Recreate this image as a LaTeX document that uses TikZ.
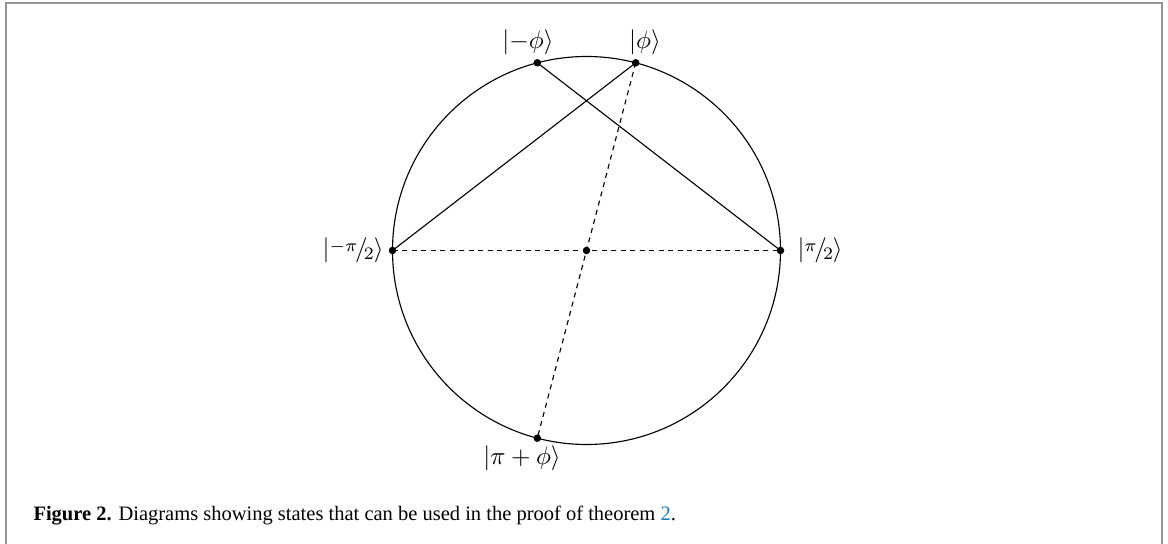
\documentclass[tikz,border=0pt]{standalone}
\usepackage[no-math]{fontspec}
\newfontfamily\capfont{Liberation Serif}
\definecolor{framecol}{RGB}{150,150,150}
\definecolor{linkblue}{RGB}{30,125,190}
\newcommand{\myfrac}[2]{\raisebox{.5ex}{$\scriptstyle #1$}\kern-.1em/\kern-.15em\raisebox{-.25ex}{$\scriptstyle #2$}}
\tikzset{
  dot/.style={circle, fill=black, inner sep=0pt, minimum size=3pt},
  lbl/.style={inner sep=0pt},
  solidline/.style={line width=0.45pt},
  dashline/.style={line width=0.45pt, dash pattern=on 2pt off 1.8pt},
}
\begin{document}
\begin{tikzpicture}[x=0.4pt, y=-0.4pt]
\useasboundingbox (0,0) rectangle (1168,544);
% frame
\draw[framecol, line width=0.8pt] (6,544) -- (6,3) -- (1162,3) -- (1162,544);
% circle
\coordinate (C) at (586.5,250.5);
\draw[solidline] (C) circle [radius=194];
% points
\node[dot] (c) at (C) {};
\node[dot] (phi) at (635.7,62.8) {};
\node[dot] (mphi) at (537.3,62.8) {};
\node[dot] (piphi) at (537.3,438.2) {};
\node[dot] (mpi2) at (392.5,250.5) {};
\node[dot] (pi2) at (780.5,250.5) {};
% connectors
\draw[solidline] (mpi2.center) -- (phi.center);
\draw[solidline] (mphi.center) -- (pi2.center);
\draw[dashline] (mpi2.center) -- (pi2.center);
\draw[dashline] (phi.center) -- (piphi.center);
% labels
\node[lbl] (lphi) at (645,42) {$|\phi\rangle$};
\node[lbl] (lmphi) at (528,42) {$|{-}\phi\rangle$};
\node[lbl] (lpiphi) at (522,458) {$|\pi+\phi\rangle$};
\node[lbl, anchor=east] (lmpi2) at (384,250.5) {$|\myfrac{-\pi}{2}\rangle$};
\node[lbl, anchor=west] (lpi2) at (797,250.5) {$|\myfrac{\pi}{2}\rangle$};
% caption
\node[lbl, anchor=base west, font=\capfont\fontsize{8.2}{10}\selectfont] (cap) at (33,521)
  {\textbf{Figure 2.} Diagrams showing states that can be used in the proof of theorem \textcolor{linkblue}{2}.};
\end{tikzpicture}
\end{document}
